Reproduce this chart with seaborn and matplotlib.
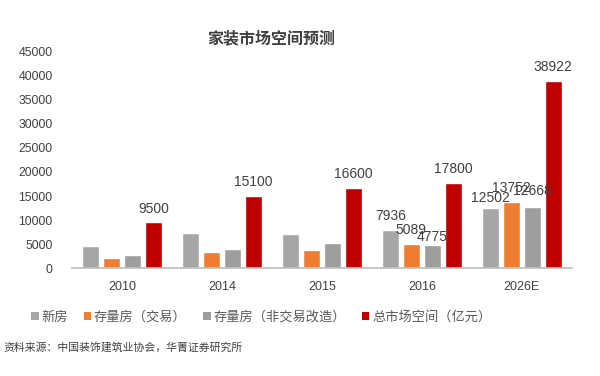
import pandas as pd
import numpy as np
import matplotlib.pyplot as plt
import seaborn as sns
from matplotlib.patches import Patch

# 数据
years = ['2010', '2014', '2015', '2016', '2026E']
series_names = ['新房', '存量房（交易）', '存量房（非交易改造）', '总市场空间（亿元）']
new_house = [4500, 7350, 7100, 7936, 12502]
stock_trade = [2150, 3400, 3800, 5089, 13752]
stock_reno = [2800, 4000, 5300, 4775, 12668]
total_market = [9500, 15100, 16600, 17800, 38922]
labeled_years = ['2016', '2026E']  # 这两年所有柱子都标数值

colors = ['#A6A6A6', '#EE7D31', '#9E9E9E', '#C00000']

sns.set_theme(style='white')
plt.rcParams['font.family'] = ['Liberation Sans', 'Noto Sans CJK SC', 'DejaVu Sans']
plt.rcParams['axes.unicode_minus'] = False

df = pd.DataFrame({
    'year': years * 4,
    'series': np.repeat(series_names, len(years)),
    'value': new_house + stock_trade + stock_reno + total_market,
})

fig = plt.figure(figsize=(6, 3.76), dpi=100)
ax = fig.add_axes([0.12, 0.287, 0.833, 0.575])
sns.barplot(data=df, x='year', y='value', hue='series', order=years,
            hue_order=series_names, palette=colors, width=0.84, gap=0.2,
            saturation=1, legend=False, ax=ax)

# 数值标签（个别标签位置微调，单位 pt）
label_shift = {('2016', 2): -4, ('2026E', 0): -2.5, ('2026E', 2): 2}
for si, cont in enumerate(ax.containers):
    for yi, bar in enumerate(cont):
        yr = years[yi]
        if si != 3 and yr not in labeled_years:
            continue
        pad = 5 + label_shift.get((yr, si), 0)
        ax.annotate(str(int(bar.get_height())),
                    (bar.get_x() + bar.get_width() / 2, bar.get_height()),
                    xytext=(0, pad), textcoords='offset points',
                    ha='center', va='bottom', fontsize=10, color='#404040')

ax.set_ylim(0, 45000)
ax.set_yticks(range(0, 45001, 5000))
ax.set_xlim(-0.5, 4.5)
ax.set_xlabel('')
ax.set_ylabel('')
for s in ['top', 'right', 'left']:
    ax.spines[s].set_visible(False)
ax.spines['bottom'].set_color('#BFBFBF')
ax.tick_params(axis='y', labelsize=8.8, labelcolor='#404040', length=0, pad=14)
ax.tick_params(axis='x', labelsize=9, labelcolor='#404040', length=0, pad=9)

fig.text(0.452, 0.899, '家装市场空间预测', ha='center', va='center',
         fontsize=11.5, fontweight='bold', color='#404040',
         family=['Noto Sans CJK SC', 'DejaVu Sans'])

handles = [Patch(facecolor=c, edgecolor='none') for c in colors]
fig.legend(handles, series_names, loc='center', bbox_to_anchor=(0.435, 0.157),
           ncol=4, frameon=False, handlelength=0.6,
           handleheight=0.6, handletextpad=0.2, columnspacing=1.2,
           labelcolor='#595959', prop={'family': ['Noto Sans CJK SC', 'DejaVu Sans'], 'size': 9.5})

fig.text(0.005, 0.075, '资料来源：中国装饰建筑业协会，华菁证券研究所', ha='left', va='center',
         fontsize=7.8, color='#404040', family=['Noto Sans CJK SC', 'DejaVu Sans'])

fig.savefig('out.png', dpi=100)
